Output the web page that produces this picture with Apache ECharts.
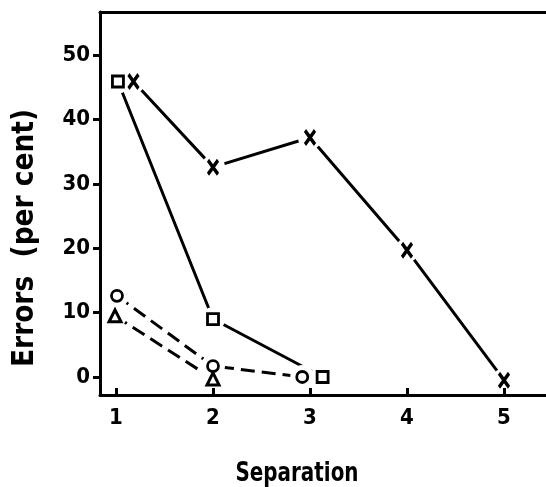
<!DOCTYPE html>
<html lang="en">
<head>
  <meta charset="UTF-8">
  <title>Errors vs separation</title>
  <script src="https://cdnjs.cloudflare.com/ajax/libs/echarts/6.0.0/echarts.min.js"></script>
  <style>
    html, body { margin: 0; padding: 0; background: #fff; }
  </style>
</head>
<body>
  <div id="main" style="width: 546px;height:487px;"></div>
<script type="text/javascript">
  // data (separation, errors in per cent)
  var crossSep = [1.18, 2.0, 3.0, 4.0, 5.0];
  var crossErr = [45.9, 32.6, 37.2, 19.7, -0.5];
  var squareSep = [1.02, 2.0, 3.13];
  var squareErr = [45.9, 9.0, 0.0];
  var circleSep = [1.01, 2.0, 2.92];
  var circleErr = [12.6, 1.7, 0.0];
  var triangleSep = [0.99, 2.0];
  var triangleErr = [9.5, -0.3];

  var xTicks = [1, 2, 3, 4, 5];
  var yTicks = [0, 10, 20, 30, 40, 50];

  var font = '"DejaVu Sans Condensed", "DejaVu Sans", sans-serif';
  var ink = '#000';

  function pairs(xs, ys) {
    return xs.map(function (x, i) { return [x, ys[i]]; });
  }

  var crossPath = 'path://M0,0 L10,14 M10,0 L0,14';

  // the line carries a white circle at each point, so it stops short of the marker
  function lineSeries(xs, ys, dashed) {
    return {
      type: 'line',
      data: pairs(xs, ys),
      showSymbol: true,
      symbol: 'circle',
      symbolSize: 24,
      silent: true,
      z: 2,
      itemStyle: { color: '#fff', borderWidth: 0 },
      lineStyle: {
        color: ink,
        width: 3,
        type: dashed ? [14, 7] : 'solid'
      }
    };
  }

  function markerSeries(xs, ys, symbol, size, bw) {
    return {
      type: 'scatter',
      data: pairs(xs, ys),
      symbol: symbol,
      symbolSize: size,
      silent: true,
      z: 5,
      itemStyle: {
        color: '#fff',
        borderColor: ink,
        borderWidth: bw,
        opacity: 1
      }
    };
  }

  var app = echarts.init(document.getElementById('main'));

  var option = {
    animation: false,
    backgroundColor: '#fff',
    grid: { left: 100, top: 12, right: 0, bottom: 92 },
    xAxis: [
      {
        type: 'value',
        min: 0.835,
        max: 5.433,
        z: 4,
        axisLine: { onZero: false, lineStyle: { color: ink, width: 3 } },
        axisTick: {
          show: true, inside: true, length: 7,
          customValues: xTicks,
          lineStyle: { color: ink, width: 3 }
        },
        axisLabel: {
          customValues: xTicks,
          margin: 12,
          fontFamily: font, fontWeight: 'bold', fontSize: 22, color: ink
        },
        splitLine: { show: false }
      },
      {
        type: 'value',
        position: 'top',
        min: 0.835,
        max: 5.433,
        axisLine: { show: true, onZero: false, lineStyle: { color: ink, width: 3 } },
        axisTick: { show: false },
        axisLabel: { show: false },
        splitLine: { show: false }
      }
    ],
    yAxis: {
      type: 'value',
      min: -2.8,
      max: 56.7,
      z: 4,
      axisLine: { show: true, onZero: false, lineStyle: { color: ink, width: 3 } },
      axisTick: {
        show: true, inside: false, length: 7,
        customValues: yTicks,
        lineStyle: { color: ink, width: 3 }
      },
      axisLabel: {
        customValues: yTicks,
        margin: 10,
        fontFamily: font, fontWeight: 'bold', fontSize: 22, color: ink
      },
      splitLine: { show: false }
    },
    graphic: [
      {
        type: 'text',
        x: 25, y: 238,
        rotation: Math.PI / 2,
        scaleX: 0.98,
        style: {
          text: 'Errors  (per cent)',
          fontFamily: font, fontWeight: 'bold', fontSize: 30,
          fill: ink, align: 'center', verticalAlign: 'middle'
        }
      },
      {
        type: 'text',
        x: 297, y: 474,
        scaleX: 0.82,
        style: {
          text: 'Separation',
          fontFamily: font, fontWeight: 'bold', fontSize: 27,
          fill: ink, align: 'center', verticalAlign: 'middle'
        }
      }
    ],
    series: [
      lineSeries(crossSep, crossErr, false),
      lineSeries(squareSep, squareErr, false),
      lineSeries(circleSep, circleErr, true),
      lineSeries(triangleSep, triangleErr, true),
      markerSeries(crossSep, crossErr, crossPath, [10, 14], 3.6),
      markerSeries(squareSep, squareErr, 'rect', 11, 2.8),
      markerSeries(circleSep, circleErr, 'circle', 11, 2.8),
      markerSeries(triangleSep, triangleErr, 'triangle', 12, 3)
    ]
  };

  app.setOption(option);
</script>
</body>
</html>
